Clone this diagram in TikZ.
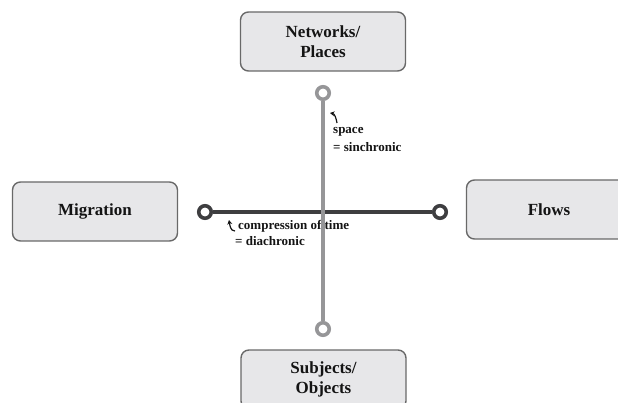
\documentclass[tikz,border=0pt]{standalone}
\usepackage{fontspec}
\setmainfont{Liberation Serif}
\usetikzlibrary{arrows.meta}
\definecolor{boxfill}{RGB}{231,231,233}
\definecolor{boxline}{RGB}{105,105,105}
\definecolor{vline}{RGB}{150,150,152}
\definecolor{hline}{RGB}{62,62,64}
\definecolor{txt}{RGB}{20,20,20}
\tikzset{
  termbox/.style={draw=boxline, line width=1.4pt, fill=boxfill, rounded corners=8pt,
    minimum width=165pt, minimum height=59pt, align=center, text=txt,
    font=\fontsize{17}{20}\selectfont\bfseries},
  endring/.style={circle, draw=#1, line width=3.6pt, fill=white, minimum size=12.5pt, inner sep=0pt},
  axis/.style={line width=4pt, draw=#1},
  note/.style={anchor=west, align=left, text=txt, inner sep=0pt,
    font=\fontsize{13}{15}\selectfont\bfseries},
  hook/.style={line width=1.2pt, draw=txt, -{Stealth[length=4.5pt,width=5pt]}}
}
\begin{document}
\begin{tikzpicture}[x=1pt,y=-1pt]
\useasboundingbox (0,0) rectangle (618,403);
% boxes
\node[termbox] (net) at (323,41.5) {Networks/\\Places};
\node[termbox] (mig) at (95,211.5) {Migration};
\node[termbox] (flo) at (549,209.5) {Flows};
\node[termbox] (sub) at (323.5,379.5) {Subjects/\\Objects};
% horizontal axis
\node[endring=hline] (hl) at (205,212) {};
\node[endring=hline] (hr) at (440,212) {};
\draw[axis=hline] (hl) -- (hr);
% labels
\node[note] (sp) at (333,132) {space};
\node[note] (sy) at (333,147) {= sinchronic};
\node[note] (ct) at (238,226) {compression of time};
\node[note] (di) at (235,241) {= diachronic};
\coordinate (a1s) at (337,123);
\coordinate (a1e) at (330,113);
\draw[hook] (a1s) to[out=100,in=-10] (a1e);
\coordinate (a2s) at (235,231);
\coordinate (a2e) at (229,220);
\draw[hook] (a2s) to[out=180,in=-80] (a2e);
% vertical axis
\node[endring=vline] (vt) at (323,93) {};
\node[endring=vline] (vb) at (323,329) {};
\draw[axis=vline] (vt) -- (vb);
\end{tikzpicture}
\end{document}
